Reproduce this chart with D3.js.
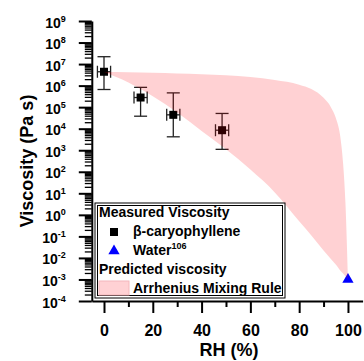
<!DOCTYPE html>
<html>
<head>
<meta charset="utf-8">
<script src="https://cdn.jsdelivr.net/npm/d3@7"></script>
<style>
  body { margin: 0; background: #fff; }
  svg { display: block; font-family: "Liberation Sans", Arial, sans-serif; font-weight: bold; }
</style>
</head>
<body>
<div id="chart"></div>
<script>
// measured beta-caryophyllene viscosity
const measRH = [0, 15, 28.4, 48.4];
const measVisc = [4.4e6, 2.8e5, 4.4e4, 8.5e3];
const measHi = [2.2e7, 8.3e5, 4.6e5, 5.1e4];
const measLo = [6.6e5, 3.8e4, 4.2e3, 1.1e3];
const measRHErr = [2.7, 2.7, 2.7, 2.7];

// water
const waterRH = [100];
const waterVisc = [1e-3];

// Arrhenius mixing rule band
const bandRH = [0, 10, 20, 30, 40, 50, 60, 70, 80, 85, 90, 93, 95, 97, 98, 99, 100];
const bandUpper = [4.3e6, 4.2e6, 4.0e6, 3.7e6, 3.4e6, 3.0e6, 2.5e6, 1.8e6, 1.1e6, 6.9e5, 2.7e5, 1e5, 3.2e4, 3.2e3, 250, 3, 1e-3];
const bandLower = [4.3e6, 1.4e6, 3.2e5, 5.6e4, 7.9e3, 1.1e3, 126, 11, 0.5, 0.11, 0.022, 0.0089, 0.005, 0.0025, 0.0019, 0.0014, 1e-3];

// axis ticks
const xTicks = [0, 20, 40, 60, 80, 100];
const xMinor = [10, 30, 50, 70, 90];
const yExponents = [9, 8, 7, 6, 5, 4, 3, 2, 1, 0, -1, -2, -3, -4];

const W = 364, H = 361;
const svg = d3.select('#chart').append('svg')
  .attr('width', W)
  .attr('height', H);

const x = d3.scaleLinear().domain([-5, 106]).range([91.8, 362.6]);
const y = d3.scaleLog().domain([1e-4, 1e9]).range([301, 21]);

// Axes
const minorY = y.ticks(200).filter(v => Math.abs(Math.log10(v) - Math.round(Math.log10(v))) > 1e-6);

svg.append('g')
  .attr('transform', `translate(${x(-5)},0)`)
  .call(d3.axisLeft(y).tickValues(minorY).tickSize(7).tickSizeOuter(0).tickFormat(''))
  .call(g => g.select('.domain').remove())
  .selectAll('line').attr('stroke-width', 1.3);

const yAxis = svg.append('g')
  .attr('transform', `translate(${x(-5)},0)`)
  .call(d3.axisLeft(y)
    .tickValues(yExponents.map(e => Math.pow(10, e)))
    .tickSize(13)
    .tickSizeOuter(0)
    .tickPadding(13));
yAxis.select('.domain').attr('stroke-width', 2);
yAxis.selectAll('.tick line').attr('stroke-width', 2);
yAxis.selectAll('.tick text')
  .attr('font-size', 14)
  .attr('dy', 6)
  .attr('fill', '#000')
  .each(function(d) {
    const t = d3.select(this);
    t.text('');
    t.append('tspan').text('10');
    t.append('tspan').attr('font-size', 9).attr('dy', -6).text(Math.round(Math.log10(d)));
  });

svg.append('g')
  .attr('transform', `translate(0,${y(1e-4)})`)
  .call(d3.axisBottom(x).tickValues(xMinor).tickSize(6).tickSizeOuter(0).tickFormat(''))
  .call(g => g.select('.domain').remove())
  .selectAll('line').attr('stroke-width', 2);

const xAxis = svg.append('g')
  .attr('transform', `translate(0,${y(1e-4)})`)
  .call(d3.axisBottom(x).tickValues(xTicks).tickSize(12).tickSizeOuter(0).tickPadding(12));
xAxis.select('.domain').attr('stroke-width', 2);
xAxis.selectAll('.tick line').attr('stroke-width', 2);
xAxis.selectAll('.tick text').attr('font-size', 16).attr('fill', '#000');

// Axis titles
svg.append('text')
  .attr('transform', 'rotate(-90)')
  .attr('x', -161)
  .attr('y', 33)
  .attr('text-anchor', 'middle')
  .attr('font-size', 18)
  .text('Viscosity (Pa s)');

svg.append('text')
  .attr('x', 229)
  .attr('y', 356)
  .attr('text-anchor', 'middle')
  .attr('font-size', 18)
  .text('RH (%)');

// Measured points with error bars
const pts = measRH.map((rh, i) => ({ rh, v: measVisc[i], hi: measHi[i], lo: measLo[i], e: measRHErr[i] }));
const eb = svg.append('g').attr('stroke', '#222').attr('stroke-width', 1.3);
pts.forEach(p => {
  eb.append('line').attr('x1', x(p.rh)).attr('x2', x(p.rh)).attr('y1', y(p.hi)).attr('y2', y(p.lo));
  eb.append('line').attr('x1', x(p.rh) - 6.5).attr('x2', x(p.rh) + 6.5).attr('y1', y(p.hi)).attr('y2', y(p.hi));
  eb.append('line').attr('x1', x(p.rh) - 6.5).attr('x2', x(p.rh) + 6.5).attr('y1', y(p.lo)).attr('y2', y(p.lo));
  eb.append('line').attr('x1', x(p.rh - p.e)).attr('x2', x(p.rh + p.e)).attr('y1', y(p.v)).attr('y2', y(p.v));
  eb.append('line').attr('x1', x(p.rh - p.e)).attr('x2', x(p.rh - p.e)).attr('y1', y(p.v) - 6).attr('y2', y(p.v) + 6);
  eb.append('line').attr('x1', x(p.rh + p.e)).attr('x2', x(p.rh + p.e)).attr('y1', y(p.v) - 6).attr('y2', y(p.v) + 6);
});
svg.append('g').selectAll('rect')
  .data(pts)
  .enter()
  .append('rect')
  .attr('x', d => x(d.rh) - 4)
  .attr('y', d => y(d.v) - 4)
  .attr('width', 8)
  .attr('height', 8)
  .attr('fill', '#000');

// Water point
const tri = d3.symbol().type(d3.symbolTriangle).size(55);
svg.append('g').selectAll('path')
  .data(waterRH.map((rh, i) => ({ rh, v: waterVisc[i] })))
  .enter()
  .append('path')
  .attr('d', tri)
  .attr('transform', d => `translate(${x(d.rh)},${y(d.v)})`)
  .attr('fill', '#0000ff');

// Predicted band (translucent, drawn over the points)
const area = d3.area()
  .x((d, i) => x(bandRH[i]))
  .y0((d, i) => y(bandLower[i]))
  .y1((d, i) => y(bandUpper[i]))
  .curve(d3.curveMonotoneX);
svg.append('path')
  .datum(bandRH)
  .attr('d', area)
  .attr('fill', 'rgb(255,0,10)')
  .attr('fill-opacity', 0.18);

// Legend
const lg = svg.append('g');
lg.append('rect').attr('x', 95).attr('y', 203).attr('width', 190).attr('height', 95)
  .attr('fill', '#fff').attr('stroke', '#000').attr('stroke-width', 1);
lg.append('rect').attr('x', 97.5).attr('y', 205.5).attr('width', 185).attr('height', 90)
  .attr('fill', 'none').attr('stroke', '#000').attr('stroke-width', 1);

lg.append('text').attr('x', 99).attr('y', 217).attr('font-size', 14).text('Measured Viscosity');
lg.append('rect').attr('x', 110).attr('y', 228).attr('width', 8).attr('height', 8).attr('fill', '#000');
lg.append('text').attr('x', 133).attr('y', 236).attr('font-size', 14).text('β-caryophyllene');
lg.append('path').attr('d', tri).attr('transform', 'translate(114,251)').attr('fill', '#0000ff');
const wt = lg.append('text').attr('x', 133).attr('y', 255).attr('font-size', 14);
wt.append('tspan').text('Water');
wt.append('tspan').attr('font-size', 9).attr('dy', -6).text('106');
lg.append('text').attr('x', 99).attr('y', 274).attr('font-size', 14).text('Predicted viscosity');
lg.append('rect').attr('x', 99).attr('y', 281).attr('width', 30).attr('height', 14)
  .attr('fill', '#ffd1d4').attr('stroke', '#f4b6bb').attr('stroke-width', 1);
lg.append('text').attr('x', 133).attr('y', 293).attr('font-size', 14).text('Arrhenius Mixing Rule');
</script>
</body>
</html>
